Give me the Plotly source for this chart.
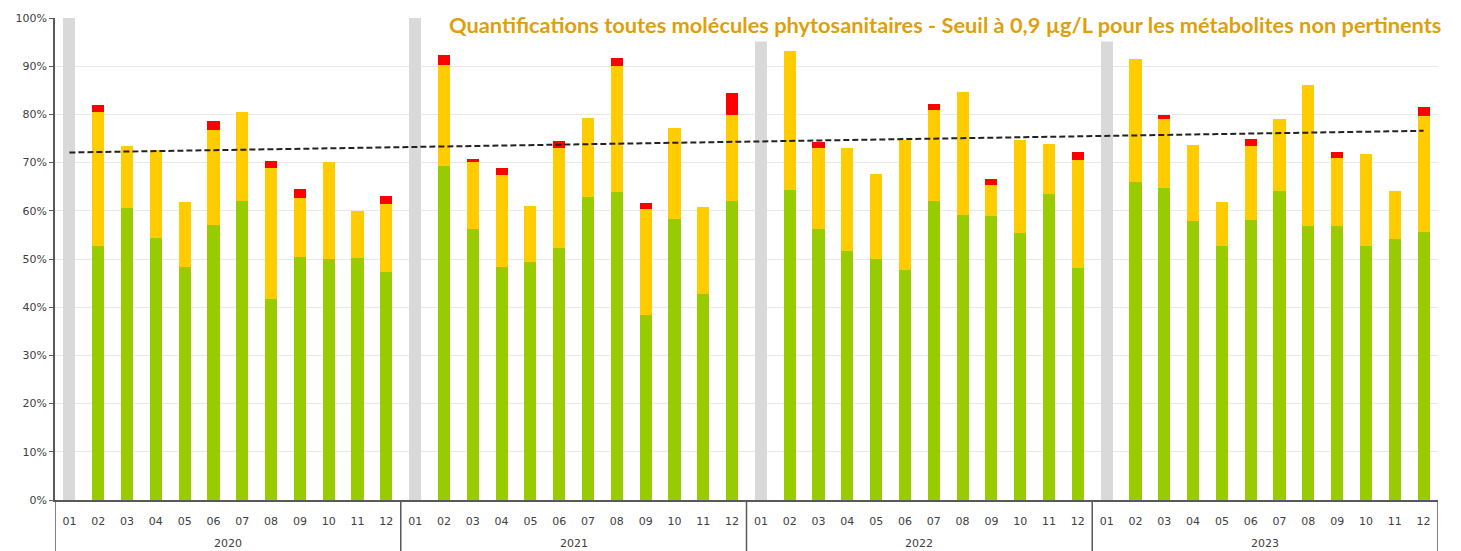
import plotly.graph_objects as go

years = ["2020", "2021", "2022", "2023"]
months = ["01", "02", "03", "04", "05", "06", "07", "08", "09", "10", "11", "12"]

# Segment values (%) per month; month 01 is the greyed-out (no data) month
green = [
    None, 52.6, 60.6, 54.4, 48.3, 57.1, 62.1, 41.6, 50.4, 49.9, 50.2, 47.3,
    None, 69.2, 56.3, 48.3, 49.3, 52.3, 62.8, 63.9, 38.4, 58.2, 42.8, 62.1,
    None, 64.3, 56.2, 51.7, 50.0, 47.7, 62.1, 59.1, 59.0, 55.4, 63.4, 48.2,
    None, 66.0, 64.7, 57.8, 52.6, 58.1, 64.1, 56.8, 56.9, 52.8, 54.2, 55.5,
]
yellow = [
    None, 27.9, 12.9, 18.2, 13.6, 19.7, 18.5, 27.3, 12.2, 20.2, 9.7, 14.1,
    None, 21.1, 13.8, 19.2, 11.6, 20.7, 16.5, 26.2, 21.9, 19.0, 18.0, 17.8,
    None, 28.9, 16.9, 21.3, 17.7, 27.0, 18.9, 25.5, 6.3, 19.3, 10.5, 22.4,
    None, 25.4, 14.4, 15.9, 9.2, 15.4, 15.0, 29.4, 14.0, 18.9, 9.9, 24.1,
]
red = [
    None, 1.4, 0, 0, 0, 1.8, 0, 1.5, 2.0, 0, 0, 1.7,
    None, 2.0, 0.6, 1.3, 0, 1.5, 0, 1.7, 1.3, 0, 0, 4.5,
    None, 0, 1.2, 0, 0, 0, 1.2, 0, 1.4, 0, 0, 1.7,
    None, 0, 0.8, 0, 0, 1.5, 0, 0, 1.2, 0, 0, 1.9,
]
grey = [
    100, None, None, None, None, None, None, None, None, None, None, None,
    100, None, None, None, None, None, None, None, None, None, None, None,
    100, None, None, None, None, None, None, None, None, None, None, None,
    100, None, None, None, None, None, None, None, None, None, None, None,
]
trend_x = ["2020-01", "2023-12"]
trend_values = [72.1, 76.6]

title_text = "Quantifications toutes molécules phytosanitaires - Seuil à 0,9 µg/L pour les métabolites non pertinents"

x = [f"{y}-{m}" for y in years for m in months]
tick_text = [m for _ in years for m in months]

fig = go.Figure()
fig.add_trace(go.Bar(x=x, y=grey, marker=dict(color="#D9D9D9", line=dict(width=0)), name="N/A"))
fig.add_trace(go.Bar(x=x, y=green, marker=dict(color="#99CC00", line=dict(width=0)), name="green"))
fig.add_trace(go.Bar(x=x, y=yellow, marker=dict(color="#FFCC00", line=dict(width=0)), name="yellow"))
fig.add_trace(go.Bar(x=x, y=red, marker=dict(color="#FF0000", line=dict(width=0)), name="red"))
fig.add_trace(go.Scatter(
    x=trend_x, y=trend_values, mode="lines",
    line=dict(color="#222222", width=2, dash="6px,3px"), name="trend"))

font_family = "DejaVu Sans"
axis_color = "#595959"
# page body has an 8px margin: shrink figure so the plot area lands where the source has it
fig.update_layout(
    width=1453, height=543,
    barmode="stack", bargap=0.58,
    showlegend=False,
    plot_bgcolor="white", paper_bgcolor="white",
    margin=dict(l=47, r=23, t=10, b=51, autoexpand=False),
    font=dict(family=font_family, size=11, color="#404040"),
)
fig.update_yaxes(
    range=[0, 100], tickvals=list(range(0, 101, 10)),
    ticktext=[f"{v}%" for v in range(0, 101, 10)],
    showgrid=True, gridcolor="#E8E8E8", gridwidth=1,
    showline=True, linecolor=axis_color, linewidth=1.5,
    ticks="outside", ticklen=4, tickcolor=axis_color,
    zeroline=False, fixedrange=True, automargin=False,
)
fig.update_xaxes(
    type="category", categoryorder="array", categoryarray=x,
    tickvals=x, ticktext=tick_text, range=[-0.5, len(x) - 0.5],
    showline=True, linecolor=axis_color, linewidth=1.5,
    ticks="", showgrid=False, tickfont=dict(size=11, color="#404040"),
    ticklabelstandoff=10, automargin=False,
)
# year group labels and dividers below the axis
n = len(months)
for i, yr in enumerate(years):
    fig.add_annotation(
        text=yr, xref="x", yref="paper", x=i * n + (n - 1) / 2, y=-0.091,
        xanchor="center", yanchor="middle", showarrow=False,
        font=dict(family=font_family, size=11, color="#404040"),
    )
for i in range(len(years) + 1):
    fig.add_shape(type="line", xref="x", yref="paper", x0=i * n - 0.5, x1=i * n - 0.5,
                  y0=0, y1=-0.12, line=dict(color=axis_color, width=1.5), layer="above")

# white band behind the title (covers grid/grey bars like in the source)
fig.add_shape(type="rect", xref="paper", yref="paper", x0=0.273, x1=1.02, y0=0.951, y1=1.04,
              fillcolor="white", line=dict(width=0), layer="above")
fig.add_annotation(
    text=title_text, xref="paper", yref="paper", x=1.0036, y=0.986, xanchor="right", yanchor="middle",
    showarrow=False,
    font=dict(family="Lato", size=21.8, color="#DF9F0C", weight="bold"),
)
fig.write_html("out.html")
